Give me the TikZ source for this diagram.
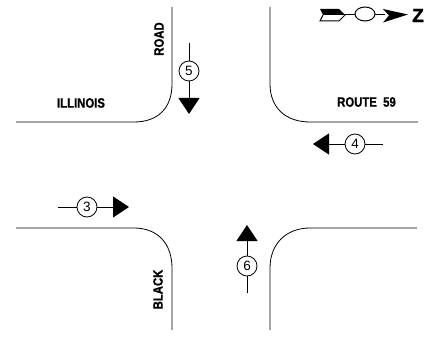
\documentclass[tikz,border=0pt]{standalone}
\usepackage{fontspec}
\setmainfont{Liberation Sans}
\newfontfamily\lblfont[FakeStretch=0.84,FakeBold=1]{Liberation Sans Bold}
\newfontfamily\zfont[FakeBold=2]{Liberation Sans Bold}
\usetikzlibrary{arrows.meta}
\tikzset{
  curb/.style={line width=0.8pt,black},
  lbl/.style={font=\lblfont\fontsize{13.5}{14}\selectfont,inner sep=0pt,text=black},
  num/.style={draw,circle,line width=0.8pt,minimum size=20pt,inner sep=0pt,font=\fontsize{13.5}{14}\selectfont,fill=white},
  lane/.style={line width=0.8pt},
  flow/.style={line width=0.8pt,-{Triangle[length=16pt,width=21pt]}},
}
\begin{document}
\begin{tikzpicture}[x=1pt,y=-1pt]
\useasboundingbox (0,0) rectangle (425,339);
% kerbs
\draw[curb] (172,7) -- (172,84) .. controls (172,108) and (158,122) .. (134,122) -- (16,122);
\draw[curb] (270,7) -- (270,84) .. controls (270,108) and (286,122) .. (310,122) -- (418,122);
\draw[curb] (16,228) -- (134,228) .. controls (158,228) and (172,244) .. (172,268) -- (172,330);
\draw[curb] (417,228) -- (310,228) .. controls (286,228) and (270,244) .. (270,268) -- (270,330);
% labels
\node[lbl] (illinois) at (81,103) {ILLINOIS};
\node[lbl] (route) at (366.5,102) {ROUTE\ \ 59};
\node[lbl,rotate=90] (road) at (159,39) {ROAD};
\node[lbl,rotate=90] (black) at (158,289.5) {BLACK};
% movements
\node[num] (n5) at (189,71) {5};
\coordinate (t5) at (189,43);
\coordinate (h5) at (189,114);
\draw[lane] (t5) -- (n5);
\draw[flow] (n5) -- (h5);
\node[num] (n3) at (87,207) {3};
\coordinate (t3) at (58,207);
\coordinate (h3) at (129,207);
\draw[lane] (t3) -- (n3);
\draw[flow] (n3) -- (h3);
\node[num] (n4) at (355,144) {4};
\coordinate (t4) at (383,144);
\coordinate (h4) at (313,144);
\draw[lane] (t4) -- (n4);
\draw[flow] (n4) -- (h4);
\node[num] (n6) at (247,266) {6};
\coordinate (t6) at (247,293);
\coordinate (h6) at (247,225);
\draw[lane] (t6) -- (n6);
\draw[flow] (n6) -- (h6);
% north arrow
\fill (320,9) -- (339,9) -- (345,15) -- (323,15) -- cycle;
\draw[line width=1pt] (323,15) -- (320,21) -- (339,21) -- (345,15);
\draw[line width=1.2pt] (345,14.5) -- (355,14.5);
\draw[line width=1pt] (365,14) ellipse (10pt and 7pt);
\draw[line width=1.2pt] (375,14.5) -- (385,14.5);
\fill (383,9) -- (408,14.5) -- (383,22.5) -- (389,15.5) -- cycle;
\node[font=\zfont\fontsize{19}{19}\selectfont,inner sep=0pt] (northz) at (418,15.5) {Z};
\end{tikzpicture}
\end{document}
